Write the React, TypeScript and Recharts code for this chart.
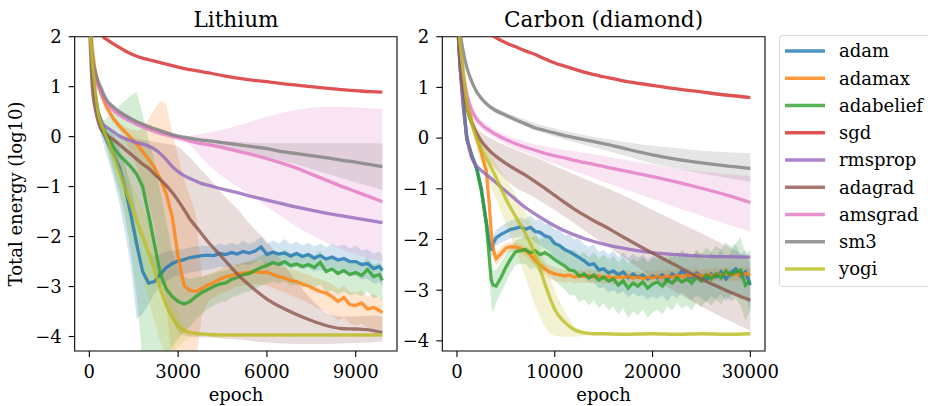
import React from 'react';
import { ComposedChart, Line, Area, XAxis, YAxis, ReferenceArea } from 'recharts';

// ---------- shared ----------
const names = ['adam', 'adamax', 'adabelief', 'sgd', 'rmsprop', 'adagrad', 'amsgrad', 'sm3', 'yogi'];
const colors = ['#1f77b4', '#ff7f0e', '#2ca02c', '#d62728', '#9467bd', '#8c564b', '#e377c2', '#7f7f7f', '#bcbd22'];
const yTicks = [-4, -3, -2, -1, 0, 1, 2];
const liXTicks = [0, 3000, 6000, 9000];
const caXTicks = [0, 10000, 20000, 30000];
const titles = ['Lithium', 'Carbon (diamond)'];

// ---------- Lithium ----------
const liEpochsSmooth = [0, 100, 200, 300, 400, 500, 600, 800, 1000, 1200, 1400, 1600, 1800, 2000, 2200, 2400, 2600, 2800, 3000, 3200, 3400, 3600, 3800, 4000, 4500, 5000, 5500, 6000, 6500, 7000, 7500, 8000, 8500, 9000, 9500, 9900];
const liEpochsNoisy = [0, 100, 200, 300, 400, 500, 600, 800, 1000, 1200, 1400, 1600, 1800, 2000, 2200, 2400, 2600, 2800, 3000, 3200, 3400, 3600, 3800, 4000,
  4200, 4400, 4600, 4800, 5000, 5200, 5400, 5600, 5800, 6000, 6200, 6400, 6600, 6800, 7000, 7200, 7400, 7600, 7800, 8000, 8200, 8400, 8600, 8800, 9000, 9200, 9400, 9600, 9800, 9900];

const liSgd = [2.7, 2.38, 2.22, 2.12, 2.04, 1.98, 1.94, 1.86, 1.79, 1.72, 1.66, 1.61, 1.57, 1.54, 1.51, 1.48, 1.45, 1.42, 1.39, 1.36, 1.34, 1.32, 1.30, 1.28, 1.22, 1.17, 1.13, 1.1, 1.06, 1.03, 1.0, 0.97, 0.94, 0.92, 0.9, 0.89];

const liSm3 = [2.6, 1.6, 1.3, 1.1, 0.97, 0.83, 0.72, 0.6, 0.5, 0.43, 0.36, 0.3, 0.25, 0.2, 0.16, 0.12, 0.08, 0.04, 0.01, -0.01, -0.03, -0.05, -0.07, -0.08, -0.12, -0.16, -0.2, -0.24, -0.3, -0.34, -0.38, -0.42, -0.47, -0.51, -0.56, -0.6];
const liSm3Hi = [2.63, 1.63, 1.33, 1.13, 1.0, 0.86, 0.75, 0.63, 0.53, 0.46, 0.39, 0.33, 0.28, 0.23, 0.19, 0.15, 0.11, 0.07, 0.04, 0.01, -0.01, -0.03, -0.04, -0.05, -0.08, -0.1, -0.12, -0.13, -0.13, -0.13, -0.13, -0.13, -0.13, -0.13, -0.13, -0.13];
const liSm3Lo = [2.57, 1.57, 1.27, 1.07, 0.94, 0.8, 0.69, 0.57, 0.47, 0.4, 0.33, 0.27, 0.22, 0.17, 0.13, 0.09, 0.05, 0.01, -0.02, -0.04, -0.06, -0.09, -0.12, -0.15, -0.2, -0.27, -0.34, -0.41, -0.48, -0.56, -0.65, -0.74, -0.83, -0.92, -1.0, -1.07];

const liAmsgrad = [2.5, 1.5, 1.2, 1.0, 0.88, 0.76, 0.66, 0.53, 0.44, 0.37, 0.31, 0.25, 0.2, 0.15, 0.11, 0.07, 0.04, 0.01, -0.02, -0.05, -0.09, -0.12, -0.14, -0.16, -0.22, -0.29, -0.36, -0.44, -0.53, -0.63, -0.75, -0.87, -0.99, -1.1, -1.21, -1.3];
const liAmsgradHi = [2.55, 1.55, 1.25, 1.05, 0.95, 0.85, 0.76, 0.65, 0.55, 0.47, 0.4, 0.33, 0.27, 0.22, 0.17, 0.12, 0.08, 0.05, 0.03, 0.02, 0.02, 0.04, 0.06, 0.08, 0.14, 0.22, 0.31, 0.4, 0.48, 0.54, 0.58, 0.6, 0.6, 0.59, 0.57, 0.56];
const liAmsgradLo = [2.45, 1.45, 1.15, 0.95, 0.83, 0.71, 0.61, 0.48, 0.39, 0.32, 0.26, 0.2, 0.15, 0.1, 0.06, 0.02, -0.01, -0.05, -0.09, -0.12, -0.16, -0.3, -0.42, -0.55, -0.8, -1.0, -1.2, -1.4, -1.6, -1.8, -1.97, -2.12, -2.25, -2.36, -2.45, -2.5];

const liRmsprop = [2.5, 1.4, 0.8, 0.45, 0.3, 0.22, 0.18, 0.1, 0.02, -0.04, -0.08, -0.12, -0.15, -0.19, -0.25, -0.34, -0.46, -0.6, -0.7, -0.78, -0.84, -0.89, -0.94, -0.97, -1.05, -1.12, -1.2, -1.27, -1.34, -1.41, -1.47, -1.53, -1.58, -1.63, -1.68, -1.72];

const liAdagrad = [2.3, 1.0, 0.55, 0.3, 0.15, 0.07, 0.02, -0.06, -0.15, -0.25, -0.35, -0.45, -0.55, -0.63, -0.75, -0.86, -0.98, -1.12, -1.28, -1.46, -1.65, -1.8, -1.95, -2.1, -2.42, -2.75, -3.02, -3.25, -3.42, -3.56, -3.68, -3.78, -3.84, -3.85, -3.87, -3.92];
const liAdagradHi = [2.35, 1.1, 0.65, 0.4, 0.25, 0.15, 0.1, 0.05, 0.02, 0.0, -0.02, -0.04, -0.06, -0.08, -0.1, -0.12, -0.14, -0.16, -0.2, -0.3, -0.42, -0.55, -0.68, -0.8, -1.15, -1.45, -1.8, -2.1, -2.5, -2.9, -3.25, -3.52, -3.6, -3.6, -3.58, -3.6];
const liAdagradLo = [2.25, 0.9, 0.45, 0.2, 0.05, -0.05, -0.15, -0.4, -0.7, -1.0, -1.3, -1.6, -1.95, -2.3, -2.65, -3.0, -3.35, -3.65, -3.9, -3.98, -4.0, -4.01, -4.02, -4.02, -4.04, -4.06, -4.09, -4.12, -4.14, -4.15, -4.15, -4.15, -4.14, -4.13, -4.12, -4.1];

const liYogi = [2.3, 1.5, 0.9, 0.45, 0.25, 0.1, -0.05, -0.35, -0.68, -1.02, -1.35, -1.68, -2.0, -2.33, -2.68, -3.05, -3.38, -3.62, -3.78, -3.88, -3.92, -3.94, -3.95, -3.96, -3.97, -3.97, -3.97, -3.97, -3.97, -3.97, -3.97, -3.97, -3.97, -3.97, -3.97, -3.97];
const liYogiHi = [2.35, 1.55, 0.95, 0.5, 0.3, 0.2, 0.1, -0.15, -0.4, -0.65, -0.9, -1.15, -1.4, -1.7, -2.05, -2.45, -2.9, -3.3, -3.6, -3.78, -3.86, -3.9, -3.92, -3.93, -3.95, -3.95, -3.95, -3.95, -3.95, -3.95, -3.95, -3.95, -3.95, -3.95, -3.95, -3.95];
const liYogiLo = [2.25, 1.45, 0.85, 0.4, 0.2, 0.0, -0.2, -0.6, -1.0, -1.45, -1.9, -2.35, -2.8, -3.25, -3.7, -4.1, -4.3, -4.3, -4.2, -4.1, -4.02, -3.99, -3.98, -3.98, -3.99, -3.99, -3.99, -3.99, -3.99, -3.99, -3.99, -3.99, -3.99, -3.99, -3.99, -3.99];

const liAdam = [2.5, 1.3, 0.72, 0.4, 0.2, 0.05, -0.1, -0.33, -0.6, -1.0, -1.55, -2.15, -2.7, -2.93, -2.9, -2.75, -2.62, -2.54, -2.49, -2.46, -2.42, -2.4, -2.38, -2.37,
  -2.38, -2.34, -2.36, -2.32, -2.35,
  -2.3, -2.33, -2.29, -2.21, -2.36,
  -2.31, -2.35, -2.33, -2.39, -2.34,
  -2.4, -2.36, -2.43, -2.38, -2.45,
  -2.41, -2.47, -2.44, -2.5, -2.5,
  -2.56, -2.54, -2.64, -2.6, -2.68];
const liAdamHi = [2.55, 1.4, 0.85, 0.55, 0.4, 0.3, 0.2, 0.05, -0.2, -0.55, -1.0, -1.55, -2.05, -2.3, -2.4, -2.35, -2.3, -2.28, -2.26, -2.25, -2.22, -2.2, -2.18, -2.19,
  -2.2, -2.14, -2.18, -2.12, -2.17,
  -2.08, -2.15, -2.1, -2.0, -2.15,
  -2.08, -2.14, -2.05, -2.16, -2.1,
  -2.18, -2.12, -2.2, -2.14, -2.22,
  -2.15, -2.2, -2.16, -2.24, -2.18,
  -2.28, -2.25, -2.34, -2.3, -2.38];
const liAdamLo = [2.45, 1.2, 0.6, 0.25, 0.0, -0.2, -0.4, -0.8, -1.3, -1.9, -2.6, -3.65, -3.55, -3.35, -3.15, -3.0, -2.9, -2.82, -2.78, -2.75, -2.72, -2.7, -2.68, -2.66,
  -2.65, -2.6, -2.62, -2.57, -2.6,
  -2.55, -2.58, -2.52, -2.48, -2.6,
  -2.55, -2.6, -2.58, -2.64, -2.6,
  -2.66, -2.62, -2.7, -2.66, -2.72,
  -2.68, -2.76, -2.72, -2.8, -2.78,
  -2.86, -2.84, -2.94, -2.92, -3.0];

const liAdamax = [2.5, 1.75, 1.3, 1.05, 0.85, 0.7, 0.57, 0.37, 0.22, 0.1, -0.02, -0.15, -0.3, -0.45, -0.62, -0.85, -1.15, -1.6, -2.4, -2.98, -3.08, -3.1, -3.04, -2.97,
  -2.92, -2.86, -2.8, -2.78, -2.74,
  -2.73, -2.71, -2.7, -2.72, -2.71,
  -2.76, -2.8, -2.83, -2.88, -2.9,
  -2.95, -2.99, -3.05, -3.1, -3.13,
  -3.2, -3.3, -3.22, -3.36, -3.38,
  -3.33, -3.45, -3.42, -3.48, -3.52];
const liAdamaxHi = [2.55, 1.8, 1.38, 1.12, 0.93, 0.78, 0.65, 0.45, 0.3, 0.2, 0.15, 0.12, 0.15, 0.35, 0.55, 0.72, 0.65, 0.1, -0.4, -0.85, -1.2, -1.55, -2.8, -2.75,
  -2.72, -2.66, -2.6, -2.58, -2.54,
  -2.53, -2.5, -2.49, -2.52, -2.5,
  -2.55, -2.6, -2.62, -2.66, -2.68,
  -2.73, -2.76, -2.82, -2.86, -2.9,
  -2.95, -3.05, -2.98, -3.1, -3.12,
  -3.08, -3.2, -3.15, -3.22, -3.25];
const liAdamaxLo = [2.45, 1.7, 1.22, 0.98, 0.77, 0.62, 0.49, 0.29, 0.14, -0.05, -0.3, -0.6, -0.95, -1.3, -1.8, -2.5, -3.4, -4.5, -4.5, -4.5, -4.5, -4.5, -3.6, -3.3,
  -3.22, -3.15, -3.1, -3.06, -3.0,
  -2.98, -2.96, -2.95, -2.97, -2.98,
  -3.03, -3.08, -3.12, -3.18, -3.22,
  -3.28, -3.33, -3.4, -3.46, -3.5,
  -3.58, -3.68, -3.62, -3.74, -3.78,
  -3.74, -3.84, -3.82, -3.88, -3.9];

const liAdabelief = [2.5, 1.4, 0.82, 0.5, 0.3, 0.15, 0.02, -0.2, -0.36, -0.48, -0.6, -0.75, -1.0, -1.55, -2.15, -2.75, -3.05, -3.2, -3.3, -3.35, -3.3, -3.2, -3.12, -3.06,
  -3.0, -2.95, -2.93, -2.86, -2.82,
  -2.76, -2.74, -2.68, -2.62, -2.58,
  -2.52, -2.56, -2.5, -2.58, -2.55,
  -2.6, -2.56, -2.62, -2.52, -2.7,
  -2.65, -2.74, -2.68, -2.76, -2.72,
  -2.78, -2.66, -2.8, -2.76, -2.88];
const liAdabeliefHi = [2.55, 1.48, 0.9, 0.6, 0.42, 0.32, 0.38, 0.5, 0.6, 0.72, 0.82, 0.9, 0.45, -0.05, -0.5, -1.1, -1.7, -2.3, -2.65, -2.8, -2.85, -2.82, -2.8, -2.78,
  -2.74, -2.7, -2.68, -2.62, -2.58,
  -2.52, -2.5, -2.44, -2.38, -2.34,
  -2.28, -2.32, -2.26, -2.34, -2.3,
  -2.36, -2.32, -2.38, -2.28, -2.45,
  -2.4, -2.5, -2.44, -2.52, -2.48,
  -2.54, -2.42, -2.56, -2.52, -2.62];
const liAdabeliefLo = [2.45, 1.32, 0.74, 0.4, 0.18, 0.0, -0.25, -0.7, -1.1, -1.6, -2.3, -3.2, -4.5, -4.5, -4.5, -4.5, -4.4, -4.2, -4.05, -3.9, -3.8, -3.65, -3.55, -3.45,
  -3.38, -3.32, -3.3, -3.22, -3.18,
  -3.12, -3.1, -3.04, -2.98, -2.94,
  -2.9, -2.94, -2.9, -2.98, -2.96,
  -3.02, -2.98, -3.04, -2.96, -3.12,
  -3.08, -3.16, -3.1, -3.18, -3.14,
  -3.2, -3.1, -3.24, -3.2, -3.3];

// ---------- Carbon (diamond) ----------
const caEpochsSmooth = [0, 300, 600, 1000, 1500, 2000, 2500, 3000, 3500, 4000, 5000, 6000, 7000, 8000, 9000, 10000, 11000, 12000, 13000, 14000, 15000, 17000, 20000, 22500, 25000, 27500, 30000];
const caEpochsNoisy = [0, 300, 600, 1000, 1500, 2000, 2500, 3000, 3300, 3500, 3700, 4000, 4500, 5000, 5500, 6000, 6500,
  7000, 7500, 8000, 8500, 9000, 9500, 10000, 10500, 11000, 11500, 12000, 12500, 13000, 13500, 14000, 14500, 15000, 15500, 16000, 16500,
  17000, 17500, 18000, 18500, 19000, 19500, 20000, 20500, 21000, 21500, 22000, 22500, 23000, 23500, 24000, 24500, 25000, 25500, 26000, 26500,
  27000, 27500, 28000, 28500, 29000, 29500, 30000];

const caSgd = [3.5, 3.2, 3.0, 2.8, 2.6, 2.4, 2.25, 2.12, 2.04, 1.98, 1.88, 1.8, 1.72, 1.65, 1.56, 1.48, 1.42, 1.36, 1.3, 1.25, 1.21, 1.13, 1.04, 0.97, 0.91, 0.85, 0.8];

const caSm3 = [2.6, 2.1, 1.75, 1.4, 1.12, 0.92, 0.78, 0.68, 0.6, 0.54, 0.45, 0.36, 0.28, 0.2, 0.15, 0.1, 0.05, 0.01, -0.03, -0.07, -0.11, -0.2, -0.33, -0.42, -0.49, -0.55, -0.6];
const caSm3Hi = [2.65, 2.15, 1.8, 1.45, 1.17, 0.97, 0.83, 0.73, 0.65, 0.6, 0.51, 0.43, 0.36, 0.29, 0.24, 0.19, 0.14, 0.1, 0.06, 0.02, -0.01, -0.07, -0.15, -0.2, -0.25, -0.28, -0.3];
const caSm3Lo = [2.55, 2.05, 1.7, 1.35, 1.07, 0.87, 0.73, 0.63, 0.55, 0.49, 0.4, 0.31, 0.23, 0.15, 0.09, 0.03, -0.03, -0.08, -0.13, -0.18, -0.23, -0.34, -0.5, -0.6, -0.7, -0.78, -0.86];

const caAmsgrad = [2.6, 2.0, 1.35, 0.88, 0.55, 0.38, 0.27, 0.19, 0.13, 0.07, -0.03, -0.11, -0.18, -0.24, -0.3, -0.35, -0.39, -0.44, -0.48, -0.52, -0.56, -0.64, -0.76, -0.87, -0.99, -1.12, -1.27];
const caAmsgradHi = [2.65, 2.1, 1.45, 0.98, 0.65, 0.47, 0.36, 0.28, 0.21, 0.15, 0.06, -0.01, -0.07, -0.12, -0.16, -0.2, -0.23, -0.26, -0.29, -0.32, -0.35, -0.42, -0.52, -0.6, -0.66, -0.71, -0.75];
const caAmsgradLo = [2.55, 1.9, 1.25, 0.78, 0.45, 0.29, 0.18, 0.1, 0.04, -0.02, -0.12, -0.21, -0.29, -0.36, -0.44, -0.51, -0.58, -0.65, -0.72, -0.79, -0.86, -1.0, -1.2, -1.37, -1.53, -1.69, -1.85];

const caRmsprop = [2.5, 1.5, 0.7, 0.05, -0.38, -0.55, -0.64, -0.72, -0.8, -0.88, -1.05, -1.21, -1.37, -1.5, -1.62, -1.73, -1.83, -1.91, -1.98, -2.04, -2.09, -2.17, -2.26, -2.3, -2.33, -2.34, -2.35];

const caAdagrad = [2.5, 1.6, 1.05, 0.6, 0.3, 0.1, -0.06, -0.18, -0.28, -0.36, -0.5, -0.62, -0.73, -0.86, -0.99, -1.13, -1.27, -1.4, -1.52, -1.63, -1.73, -1.95, -2.27, -2.52, -2.78, -3.0, -3.2];
const caAdagradHi = [2.55, 1.7, 1.15, 0.7, 0.4, 0.22, 0.12, 0.05, -0.01, -0.06, -0.15, -0.23, -0.31, -0.38, -0.46, -0.55, -0.63, -0.72, -0.8, -0.88, -0.96, -1.13, -1.42, -1.65, -1.88, -2.12, -2.4];
const caAdagradLo = [2.45, 1.5, 0.95, 0.5, 0.2, -0.02, -0.2, -0.36, -0.5, -0.62, -0.82, -0.98, -1.08, -1.18, -1.3, -1.42, -1.55, -1.68, -1.82, -1.95, -2.08, -2.35, -2.75, -3.05, -3.32, -3.57, -3.8];

const caYogi = [2.5, 1.9, 1.4, 0.7, 0.3, 0.0, -0.22, -0.4, -0.58, -0.78, -1.2, -1.55, -1.88, -2.3, -2.88, -3.38, -3.63, -3.78, -3.84, -3.86, -3.86, -3.87, -3.86, -3.87, -3.86, -3.87, -3.86];
const caYogiHi = [2.55, 1.95, 1.45, 0.8, 0.42, 0.15, -0.05, -0.2, -0.35, -0.5, -0.8, -1.1, -1.45, -1.85, -2.45, -3.0, -3.4, -3.7, -3.8, -3.83, -3.84, -3.85, -3.84, -3.85, -3.84, -3.85, -3.84];
const caYogiLo = [2.45, 1.85, 1.35, 0.6, 0.15, -0.2, -0.5, -0.75, -1.0, -1.2, -1.7, -2.2, -2.75, -3.3, -3.72, -3.9, -3.92, -3.92, -3.9, -3.89, -3.89, -3.9, -3.89, -3.9, -3.89, -3.9, -3.89];

const caAdam = [2.5, 1.45, 0.8, 0.0, -0.33, -0.58, -1.0, -1.65, -2.05, -2.22, -2.08, -1.97, -1.9, -1.85, -1.8, -1.78, -1.75,
  -1.8, -1.76, -1.84, -1.86, -1.93,
  -1.96, -2.08, -2.12, -2.2, -2.24,
  -2.3, -2.36, -2.42, -2.5, -2.48,
  -2.6, -2.58, -2.66, -2.62, -2.7,
  -2.64, -2.75, -2.68, -2.74, -2.7,
  -2.78, -2.72, -2.76, -2.7, -2.8,
  -2.68, -2.74, -2.62, -2.7, -2.76,
  -2.66, -2.72, -2.8, -2.68, -2.74,
  -2.64, -2.78, -2.66, -2.58, -2.72,
  -2.64, -2.9];
const caAdamHi = [2.55, 1.5, 0.85, 0.06, -0.27, -0.5, -0.9, -1.5, -1.9, -2.05, -1.92, -1.82, -1.74, -1.68, -1.62, -1.6, -1.56,
  -1.6, -1.52, -1.62, -1.6, -1.7,
  -1.68, -1.82, -1.8, -1.92, -1.9,
  -2.0, -1.98, -2.1, -2.15, -2.1,
  -2.25, -2.2, -2.3, -2.22, -2.35,
  -2.25, -2.38, -2.28, -2.36, -2.3,
  -2.4, -2.32, -2.38, -2.28, -2.42,
  -2.26, -2.36, -2.2, -2.3, -2.36,
  -2.24, -2.32, -2.4, -2.26, -2.34,
  -2.2, -2.38, -2.24, -2.1, -2.3,
  -2.2, -2.5];
const caAdamLo = [2.45, 1.4, 0.75, -0.06, -0.4, -0.66, -1.12, -1.8, -2.2, -2.4, -2.25, -2.12, -2.06, -2.02, -1.98, -1.96, -1.94,
  -2.0, -1.98, -2.06, -2.12, -2.18,
  -2.24, -2.36, -2.42, -2.5, -2.56,
  -2.62, -2.7, -2.76, -2.86, -2.84,
  -2.96, -2.94, -3.04, -3.0, -3.08,
  -3.02, -3.14, -3.06, -3.12, -3.1,
  -3.18, -3.12, -3.16, -3.1, -3.22,
  -3.1, -3.16, -3.04, -3.12, -3.2,
  -3.1, -3.16, -3.24, -3.12, -3.18,
  -3.08, -3.22, -3.1, -3.04, -3.18,
  -3.12, -3.4];

const caAdamax = [2.5, 1.7, 1.15, 0.75, 0.35, 0.02, -0.3, -0.65, -1.3, -1.85, -2.2, -2.38, -2.28, -2.17, -2.14, -2.15, -2.18,
  -2.22, -2.3, -2.42, -2.5, -2.58,
  -2.64, -2.68, -2.7, -2.72, -2.7,
  -2.74, -2.72, -2.73, -2.71, -2.74,
  -2.72, -2.75, -2.73, -2.76, -2.74,
  -2.75, -2.72, -2.76, -2.74, -2.77,
  -2.74, -2.76, -2.73, -2.75, -2.72,
  -2.74, -2.71, -2.73, -2.7, -2.72,
  -2.69, -2.72, -2.7, -2.71, -2.68,
  -2.7, -2.67, -2.7, -2.68, -2.7,
  -2.67, -2.7];
const caAdamaxHi = [2.55, 1.75, 1.2, 0.8, 0.4, 0.07, -0.25, -0.58, -1.2, -1.72, -2.08, -2.25, -2.16, -2.07, -2.05, -2.06, -2.09,
  -2.12, -2.19, -2.3, -2.38, -2.46,
  -2.52, -2.56, -2.58, -2.6, -2.58,
  -2.62, -2.6, -2.61, -2.58, -2.62,
  -2.6, -2.63, -2.6, -2.64, -2.62,
  -2.63, -2.59, -2.64, -2.62, -2.65,
  -2.61, -2.64, -2.6, -2.63, -2.59,
  -2.62, -2.58, -2.61, -2.57, -2.6,
  -2.56, -2.6, -2.57, -2.59, -2.55,
  -2.58, -2.54, -2.58, -2.55, -2.58,
  -2.54, -2.57];
const caAdamaxLo = [2.45, 1.65, 1.1, 0.7, 0.3, -0.03, -0.36, -0.74, -1.42, -2.0, -2.35, -2.52, -2.4, -2.28, -2.24, -2.25, -2.28,
  -2.33, -2.42, -2.54, -2.63, -2.71,
  -2.77, -2.81, -2.83, -2.85, -2.83,
  -2.87, -2.85, -2.86, -2.84, -2.87,
  -2.85, -2.88, -2.86, -2.89, -2.87,
  -2.88, -2.85, -2.89, -2.87, -2.9,
  -2.87, -2.89, -2.86, -2.88, -2.85,
  -2.87, -2.84, -2.86, -2.83, -2.85,
  -2.82, -2.85, -2.83, -2.84, -2.81,
  -2.83, -2.8, -2.83, -2.81, -2.83,
  -2.8, -2.83];

const caAdabelief = [2.5, 1.45, 0.8, -0.02, -0.35, -0.6, -1.05, -1.7, -2.35, -2.8, -2.9, -2.92, -2.75, -2.55, -2.38, -2.24, -2.22,
  -2.2, -2.26, -2.22, -2.3, -2.26,
  -2.32, -2.4, -2.46, -2.52, -2.6,
  -2.62, -2.72, -2.68, -2.76, -2.7,
  -2.8, -2.74, -2.82, -2.78, -2.9,
  -2.82, -2.96, -2.86, -2.92, -2.84,
  -2.96, -2.88, -2.84, -2.92, -2.8,
  -2.86, -2.76, -2.84, -2.78, -2.86,
  -2.74, -2.82, -2.7, -2.78, -2.68,
  -2.76, -2.62, -2.7, -2.64, -2.6,
  -2.9, -2.82];
const caAdabeliefHi = [2.55, 1.5, 0.85, 0.05, -0.28, -0.52, -0.95, -1.55, -2.15, -2.55, -2.6, -2.6, -2.45, -2.3, -2.15, -2.02, -1.98,
  -1.95, -1.98, -1.92, -2.0, -1.95,
  -2.0, -2.05, -2.1, -2.15, -2.22,
  -2.2, -2.3, -2.25, -2.35, -2.25,
  -2.38, -2.3, -2.4, -2.32, -2.45,
  -2.36, -2.48, -2.38, -2.44, -2.34,
  -2.46, -2.38, -2.32, -2.42, -2.28,
  -2.36, -2.24, -2.32, -2.26, -2.34,
  -2.2, -2.28, -2.16, -2.24, -2.12,
  -2.2, -2.06, -2.14, -2.08, -1.95,
  -2.3, -2.2];
const caAdabeliefLo = [2.45, 1.4, 0.75, -0.1, -0.45, -0.7, -1.2, -1.9, -2.7, -3.3, -3.45, -3.25, -3.05, -2.85, -2.65, -2.5, -2.48,
  -2.48, -2.58, -2.55, -2.66, -2.62,
  -2.72, -2.82, -2.9, -2.98, -3.1,
  -3.1, -3.24, -3.18, -3.3, -3.2,
  -3.36, -3.26, -3.4, -3.32, -3.48,
  -3.36, -3.55, -3.42, -3.5, -3.38,
  -3.54, -3.44, -3.38, -3.48, -3.32,
  -3.4, -3.26, -3.36, -3.3, -3.4,
  -3.24, -3.34, -3.2, -3.3, -3.18,
  -3.28, -3.12, -3.22, -3.16, -3.3,
  -3.6, -3.4];

// ---------- build ----------
type Series = { xs: number[]; y: number[]; hi?: number[]; lo?: number[]; smooth: boolean };

const toLine = (xs: number[], ys: number[]) => xs.map((x, i) => ({ x, y: ys[i] }));
const toBand = (xs: number[], lo: number[], hi: number[]) => xs.map((x, i) => ({ x, band: [lo[i], hi[i]] }));

const liSeries: Series[] = [
  { xs: liEpochsNoisy, y: liAdam, hi: liAdamHi, lo: liAdamLo, smooth: false },
  { xs: liEpochsNoisy, y: liAdamax, hi: liAdamaxHi, lo: liAdamaxLo, smooth: false },
  { xs: liEpochsNoisy, y: liAdabelief, hi: liAdabeliefHi, lo: liAdabeliefLo, smooth: false },
  { xs: liEpochsSmooth, y: liSgd, smooth: true },
  { xs: liEpochsSmooth, y: liRmsprop, smooth: true },
  { xs: liEpochsSmooth, y: liAdagrad, hi: liAdagradHi, lo: liAdagradLo, smooth: true },
  { xs: liEpochsSmooth, y: liAmsgrad, hi: liAmsgradHi, lo: liAmsgradLo, smooth: true },
  { xs: liEpochsSmooth, y: liSm3, hi: liSm3Hi, lo: liSm3Lo, smooth: true },
  { xs: liEpochsSmooth, y: liYogi, hi: liYogiHi, lo: liYogiLo, smooth: true },
];

const caSeries: Series[] = [
  { xs: caEpochsNoisy, y: caAdam, hi: caAdamHi, lo: caAdamLo, smooth: false },
  { xs: caEpochsNoisy, y: caAdamax, hi: caAdamaxHi, lo: caAdamaxLo, smooth: false },
  { xs: caEpochsNoisy, y: caAdabelief, hi: caAdabeliefHi, lo: caAdabeliefLo, smooth: false },
  { xs: caEpochsSmooth, y: caSgd, smooth: true },
  { xs: caEpochsSmooth, y: caRmsprop, smooth: true },
  { xs: caEpochsSmooth, y: caAdagrad, hi: caAdagradHi, lo: caAdagradLo, smooth: true },
  { xs: caEpochsSmooth, y: caAmsgrad, hi: caAmsgradHi, lo: caAmsgradLo, smooth: true },
  { xs: caEpochsSmooth, y: caSm3, hi: caSm3Hi, lo: caSm3Lo, smooth: true },
  { xs: caEpochsSmooth, y: caYogi, hi: caYogiHi, lo: caYogiLo, smooth: true },
];

const FONT = 'DejaVu Serif';
const fmt = (v: number) => (v < 0 ? '\u2212' + Math.abs(v) : String(v));
const tickStyle = { fill: '#000', fontSize: 18, fontFamily: FONT };

function Panel(props: {
  series: Series[]; width: number; marginLeft: number; marginRight: number; yWidth: number;
  xDomain: [number, number]; yDomain: [number, number]; xTicks: number[];
}) {
  const { series, width, marginLeft, marginRight, yWidth, xDomain, yDomain, xTicks } = props;
  return (
    <ComposedChart width={width} height={406} margin={{ top: 36.7, right: marginRight, bottom: 25, left: marginLeft }}>
      <XAxis type="number" dataKey="x" domain={xDomain} allowDataOverflow ticks={xTicks} interval={0}
        tick={tickStyle} tickLine={{ stroke: '#000', strokeWidth: 1.1 }} axisLine={false} tickSize={6} tickMargin={8} height={30} />
      <YAxis type="number" domain={yDomain} allowDataOverflow ticks={yTicks} interval={0} tickFormatter={fmt}
        tick={tickStyle} tickLine={{ stroke: '#000', strokeWidth: 1.1 }} axisLine={false} tickSize={6} tickMargin={7} width={yWidth} />
      {series.map((s, i) =>
        s.hi && s.lo ? (
          <Area key={'b' + i} data={toBand(s.xs, s.lo, s.hi)} dataKey="band" type={s.smooth ? 'monotone' : 'linear'}
            stroke="none" fill={colors[i]} fillOpacity={0.2} isAnimationActive={false} activeDot={false} dot={false} />
        ) : null
      )}
      {series.map((s, i) => (
        <Line key={'l' + i} data={toLine(s.xs, s.y)} dataKey="y" type={s.smooth ? 'monotone' : 'linear'}
          stroke={colors[i]} strokeOpacity={0.8} strokeWidth={3.3} dot={false} activeDot={false} isAnimationActive={false} />
      ))}
      <ReferenceArea x1={xDomain[0]} x2={xDomain[1]} y1={yDomain[0]} y2={yDomain[1]} fill="none" fillOpacity={0}
        stroke="#000" strokeWidth={1.1} ifOverflow="visible" />
    </ComposedChart>
  );
}

export default function App() {
  return (
    <div style={{ position: 'fixed', left: 0, top: 0, width: 928, height: 406, overflow: 'hidden', background: '#fff' }}>
      <div style={{ position: 'absolute', left: 0, top: 0 }}>
        <Panel series={liSeries} width={410} marginLeft={14.7} marginRight={13} yWidth={60}
          xDomain={[-495, 10395]} yDomain={[-4.29, 2]} xTicks={liXTicks} />
      </div>
      <div style={{ position: 'absolute', left: 400, top: 0 }}>
        <Panel series={caSeries} width={400} marginLeft={2.3} marginRight={35} yWidth={40}
          xDomain={[-1500, 31500]} yDomain={[-4.2, 2]} xTicks={caXTicks} />
      </div>
      <svg width={928} height={406} style={{ position: 'absolute', left: 0, top: 0, pointerEvents: 'none' }}>
        <text x={236} y={26.7} textAnchor="middle" fontFamily={FONT} fontSize={21.6} fill="#000">{titles[0]}</text>
        <text x={603.6} y={26.7} textAnchor="middle" fontFamily={FONT} fontSize={21.6} fill="#000">{titles[1]}</text>
        <text x={236} y={401} textAnchor="middle" fontFamily={FONT} fontSize={18} fill="#000">epoch</text>
        <text x={603.6} y={401} textAnchor="middle" fontFamily={FONT} fontSize={18} fill="#000">epoch</text>
        <text transform="translate(22,194) rotate(-90)" textAnchor="middle" fontFamily={FONT} fontSize={18} fill="#000">Total energy (log10)</text>
        <rect x={779.5} y={35.5} width={200} height={251} rx={3} fill="#fff" fillOpacity={0.8} stroke="#d6d6d6" strokeWidth={1} />
        {names.map((n, i) => {
          const cy = 51 + i * 27.25;
          return (
            <g key={n}>
              <line x1={785} x2={825} y1={cy} y2={cy} stroke={colors[i]} strokeOpacity={0.8} strokeWidth={3.3} />
              <text x={839} y={cy + 6.3} fontFamily={FONT} fontSize={18} fill="#000">{n}</text>
            </g>
          );
        })}
      </svg>
    </div>
  );
}
